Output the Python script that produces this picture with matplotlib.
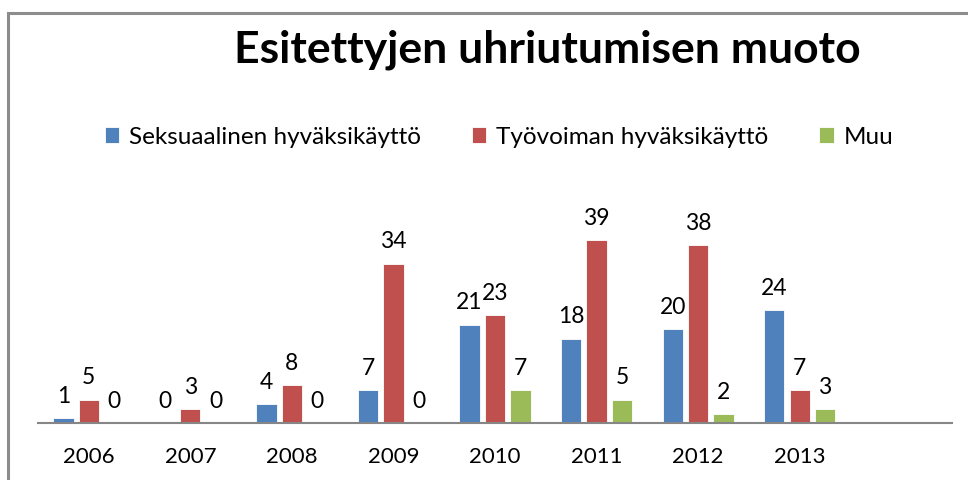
import matplotlib
matplotlib.use("Agg")
import matplotlib.pyplot as plt
import matplotlib.patches as mpatches
import numpy as np

plt.rcParams['font.family'] = ['Lato', 'DejaVu Sans']

years = ["2006", "2007", "2008", "2009", "2010", "2011", "2012", "2013"]
series_names = ["Seksuaalinen hyväksikäyttö", "Työvoiman hyväksikäyttö", "Muu"]
seksuaalinen = [1, 0, 4, 7, 21, 18, 20, 24]
tyovoima = [5, 3, 8, 34, 23, 39, 38, 7]
muu = [0, 0, 0, 0, 7, 5, 2, 3]
colors = ["#4F81BD", "#C0504D", "#9BBB59"]
title = "Esitettyjen uhriutumisen muoto"

W, H = 968, 480
fig = plt.figure(figsize=(W / 100, H / 100), dpi=100)

# chart border (cropped at right/bottom)
fig.patches.append(mpatches.Rectangle((8 / W, -0.2), 1.2, (H - 13) / H + 0.2,
                                      transform=fig.transFigure, fill=False,
                                      edgecolor="#8C8C8C", linewidth=2.2))

ax = fig.add_axes([38 / W, (H - 423) / H, (952 - 38) / W, (423 - 212) / H])
x = np.arange(len(years))
step = 0.25
width = 0.2
for i, (vals, name, c) in enumerate(zip([seksuaalinen, tyovoima, muu], series_names, colors)):
    pos = x + (i - 1) * step
    bars = ax.bar(pos, vals, width, color=c, label=name, edgecolor="white", linewidth=0.6)
    for p, v in zip(pos, vals):
        ax.annotate(str(v), (p, v), xytext=(0, 8), textcoords="offset points",
                    ha="center", va="bottom", fontsize=16.5)

ax.set_xlim(-0.5, len(years) + 0.5)
ax.set_ylim(0, 45)
ax.set_xticks(x)
ax.set_xticklabels(years, fontsize=16)
ax.tick_params(axis="x", length=0, pad=17)
ax.set_yticks([])
for s in ["top", "right", "left"]:
    ax.spines[s].set_visible(False)
ax.spines["bottom"].set_color("#868686")
ax.spines["bottom"].set_linewidth(1.5)
ax.patch.set_alpha(0)

fig.text(547 / W, (H - 50) / H, title, ha="center", va="center",
         fontsize=32, fontweight="bold")

leg = fig.legend(loc="center", bbox_to_anchor=(499 / W, (H - 137) / H), ncol=3,
                 frameon=False, fontsize=17.5, handlelength=0.6, handleheight=0.6,
                 handletextpad=0.4, columnspacing=2.1)

fig.savefig("out.png", dpi=100)
